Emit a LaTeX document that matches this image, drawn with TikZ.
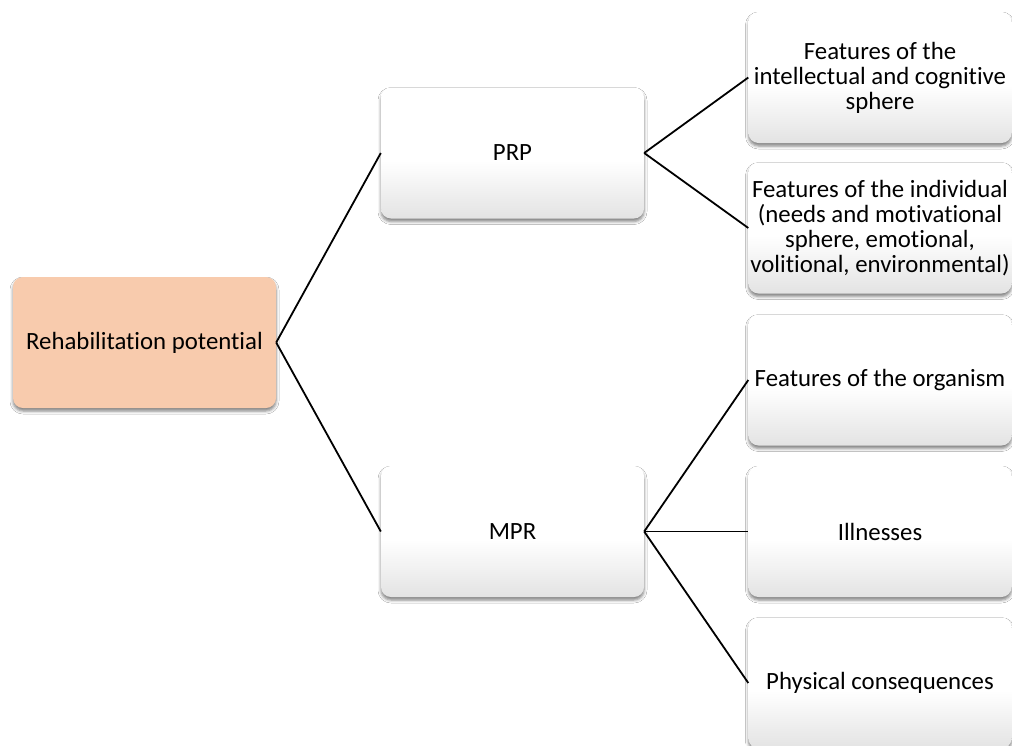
\documentclass[tikz,border=0pt]{standalone}
\usepackage{fontspec}
\setmainfont{Carlito}[Ligatures=NoCommon]
\usetikzlibrary{shadows.blur}
\definecolor{peach}{HTML}{F8CBAD}
\pgfdeclareverticalshading{boxshade}{100bp}{color(0bp)=(black!11); color(25bp)=(black!11); color(47bp)=(white); color(75bp)=(white); color(100bp)=(white)}
\tikzset{
  box/.style={rounded corners=10pt, minimum width=263pt, minimum height=131pt,
    inner sep=1pt, align=center, font=\fontsize{24.8}{25}\selectfont,
    blur shadow={shadow xshift=0pt, shadow yshift=-3pt, shadow blur radius=3pt, shadow opacity=50}},
  greybox/.style={box, shading=boxshade},
  rootbox/.style={box, fill=peach},
  conn/.style={draw=black, line width=1.8pt}
}
\begin{document}
\begin{tikzpicture}[x=1pt,y=-1pt]
\useasboundingbox (0,0) rectangle (1012,745);
\fill[white] (0,0) rectangle (1012,745);
\begin{scope}
\clip (0,0) rectangle (1012,745);
\node[rootbox] (root) at (144.5,342.5) {Rehabilitation potential};
\node[greybox] (prp) at (512.5,153) {PRP};
\node[greybox] (mpr) at (512.5,531.5) {MPR};
\node[greybox] (l1) at (880,77.5) {Features of the\\intellectual and cognitive\\sphere};
\node[greybox] (l2) at (880,228) {Features of the individual\\(needs and motivational\\sphere, emotional,\\volitional, environmental)};
\node[greybox] (l3) at (880,380) {Features of the organism};
\node[greybox] (l4) at (880,531.5) {Illnesses};
\node[greybox] (l5) at (880,683) {Physical consequences};
\draw[conn] (root.east) -- (prp.west);
\draw[conn] (root.east) -- (mpr.west);
\draw[conn] (prp.east) -- (l1.west);
\draw[conn] (prp.east) -- (l2.west);
\draw[conn] (mpr.east) -- (l3.west);
\draw[conn] (mpr.east) -- (l4.west);
\draw[conn] (mpr.east) -- (l5.west);
\end{scope}
\end{tikzpicture}
\end{document}
